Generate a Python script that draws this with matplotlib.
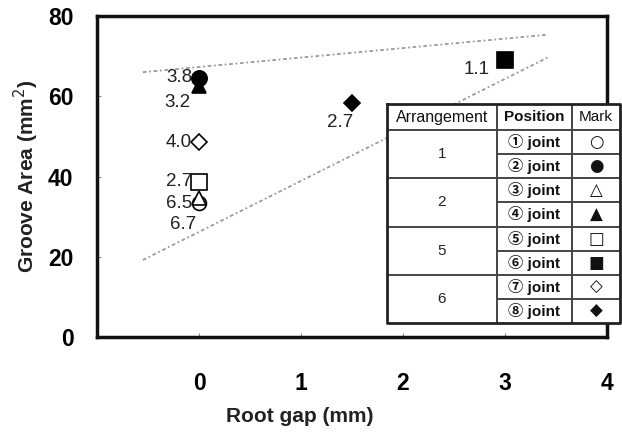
import matplotlib
matplotlib.use("Agg")
import matplotlib.pyplot as plt

# ---- data ----
arrangement = [1, 1, 2, 2, 5, 5, 6, 6]
position_labels = ["\u2460 joint", "\u2461 joint", "\u2462 joint", "\u2463 joint",
                   "\u2464 joint", "\u2465 joint", "\u2466 joint", "\u2467 joint"]
mark_glyphs = ["\u25CB", "\u25CF", "\u25B3", "\u25B2", "\u25A1", "\u25A0", "\u25C7", "\u25C6"]
root_gap = [0, 0, 0, 0, 0, 3, 0, 1.5]
groove_area = [33.3, 64.6, 34.6, 62.6, 38.7, 69.0, 48.5, 58.4]
point_labels = ["6.5", "3.8", "6.7", "3.2", "2.7", "1.1", "4.0", "2.7"]

upper_line_x = [-0.55, 3.4]
upper_line_y = [66.0, 75.3]
lower_line_x = [-0.55, 3.43]
lower_line_y = [19.2, 69.8]

x_ticks = [0, 1, 2, 3, 4]
y_ticks = [0, 20, 40, 60, 80]

# ---- styles ----
markers = ["o", "o", "^", "^", "s", "s", "D", "D"]
filled = [False, True, False, True, False, True, False, True]
msizes = [10, 11, 10, 10, 11, 11, 8, 8]
# label offsets in points (dx, dy) relative to marker, text right-aligned
label_offsets = [(-5, 0), (-5, 0), (-2, -19), (-6, -12), (-5, 0), (-11, -7), (-5, 0), (1, -14)]

W, H = 622, 432
fig = plt.figure(figsize=(W / 100, H / 100), dpi=100)
ax = fig.add_axes([97 / W, 1 - 337 / H, (607 - 97) / W, (337 - 16) / H])

ax.plot(upper_line_x, upper_line_y, color="#9a9a9a", lw=1.3, ls=(0, (2, 1.5, 1, 1.5)), zorder=1)
ax.plot(lower_line_x, lower_line_y, color="#9a9a9a", lw=1.3, ls=(0, (2, 1.5, 1, 1.5)), zorder=1)

for i in range(len(root_gap)):
    ax.plot(root_gap[i], groove_area[i], marker=markers[i], ms=msizes[i],
            mfc="black" if filled[i] else "white", mec="black", mew=1.2,
            ls="none", zorder=3 if filled[i] else 2)
    ax.annotate(point_labels[i], (root_gap[i], groove_area[i]),
                xytext=label_offsets[i], textcoords="offset points",
                ha="right", va="center", fontsize=13.5, color="#222222",
                family=["Liberation Sans", "DejaVu Sans"], zorder=4)

ax.set_xlim(-1, 4)
ax.set_ylim(0, 80)
ax.set_xticks(x_ticks)
ax.set_yticks(y_ticks)
tick_font = dict(family=["Liberation Sans Narrow", "Liberation Sans", "DejaVu Sans"], weight="bold", size=16.5)
ax.set_xticklabels([str(t) for t in x_ticks], **tick_font)
ax.set_yticklabels([str(t) for t in y_ticks], **tick_font)
ax.tick_params(axis="x", direction="in", length=3, width=0.8, color="#888", pad=25)
ax.tick_params(axis="y", direction="in", length=3, width=0.8, color="#888", pad=17)
for s in ax.spines.values():
    s.set_linewidth(2.5)
    s.set_color("#111111")

ax.set_xlabel("Root gap (mm)", fontsize=15, weight="bold", color="#222",
              family=["Liberation Sans", "DejaVu Sans"])
ax.xaxis.set_label_coords((300 - 97) / 510, (337 - 407) / 321)
ax.set_ylabel("Groove Area (mm$^2$)", fontsize=15, weight="bold", color="#222",
              family=["Liberation Sans", "DejaVu Sans"])
ax.yaxis.set_label_coords((41 - 97) / 510, 0.5)

# ---- table (inset, pixel coordinates) ----
L, C1, C2, R = 387, 497, 572, 620
T, HB, B = 104, 130, 323
tax = fig.add_axes([L / W, 1 - B / H, (R - L) / W, (B - T) / H])
tax.set_xlim(L, R)
tax.set_ylim(B, T)
tax.axis("off")
tax.add_patch(plt.Rectangle((L, T), R - L, B - T, facecolor="white", edgecolor="none", zorder=0))
row_h = (B - HB) / 8
lc = "#444444"
tax.plot([L, R, R, L, L], [T, T, B, B, T], color="#222", lw=2.0, clip_on=False, zorder=3)
tax.plot([C1, C1], [T, B], color=lc, lw=1.4)
tax.plot([C2, C2], [T, B], color=lc, lw=1.4)
tax.plot([L, R], [HB, HB], color=lc, lw=1.4)
for k in range(1, 8):
    y = HB + k * row_h
    if k % 2 == 0:
        tax.plot([L, R], [y, y], color=lc, lw=1.4)
    else:
        tax.plot([C1, R], [y, y], color=lc, lw=1.4)

tf = ["Liberation Sans", "Noto Sans CJK JP", "DejaVu Sans"]
tax.text((L + C1) / 2, (T + HB) / 2, "Arrangement", ha="center", va="center", fontsize=11.5, family=tf, color="#111")
tax.text((C1 + C2) / 2, (T + HB) / 2, "Position", ha="center", va="center", fontsize=11, weight="bold", family=tf, color="#111")
tax.text((C2 + R) / 2, (T + HB) / 2, "Mark", ha="center", va="center", fontsize=11, family=tf, color="#111")
for g in range(4):
    yc = HB + (2 * g + 1) * row_h
    tax.text((L + C1) / 2, yc, str(arrangement[2 * g]), ha="center", va="center", fontsize=11, family=tf, color="#222")
for i in range(8):
    yc = HB + (i + 0.5) * row_h
    tax.text((C1 + C2) / 2, yc, position_labels[i], ha="center", va="center", fontsize=11, weight="bold", family=tf, color="#111")
    tax.text((C2 + R) / 2, yc, mark_glyphs[i], ha="center", va="center", fontsize=12,
             family=["DejaVu Sans"], color="#111")

fig.savefig("out.png", dpi=100)
